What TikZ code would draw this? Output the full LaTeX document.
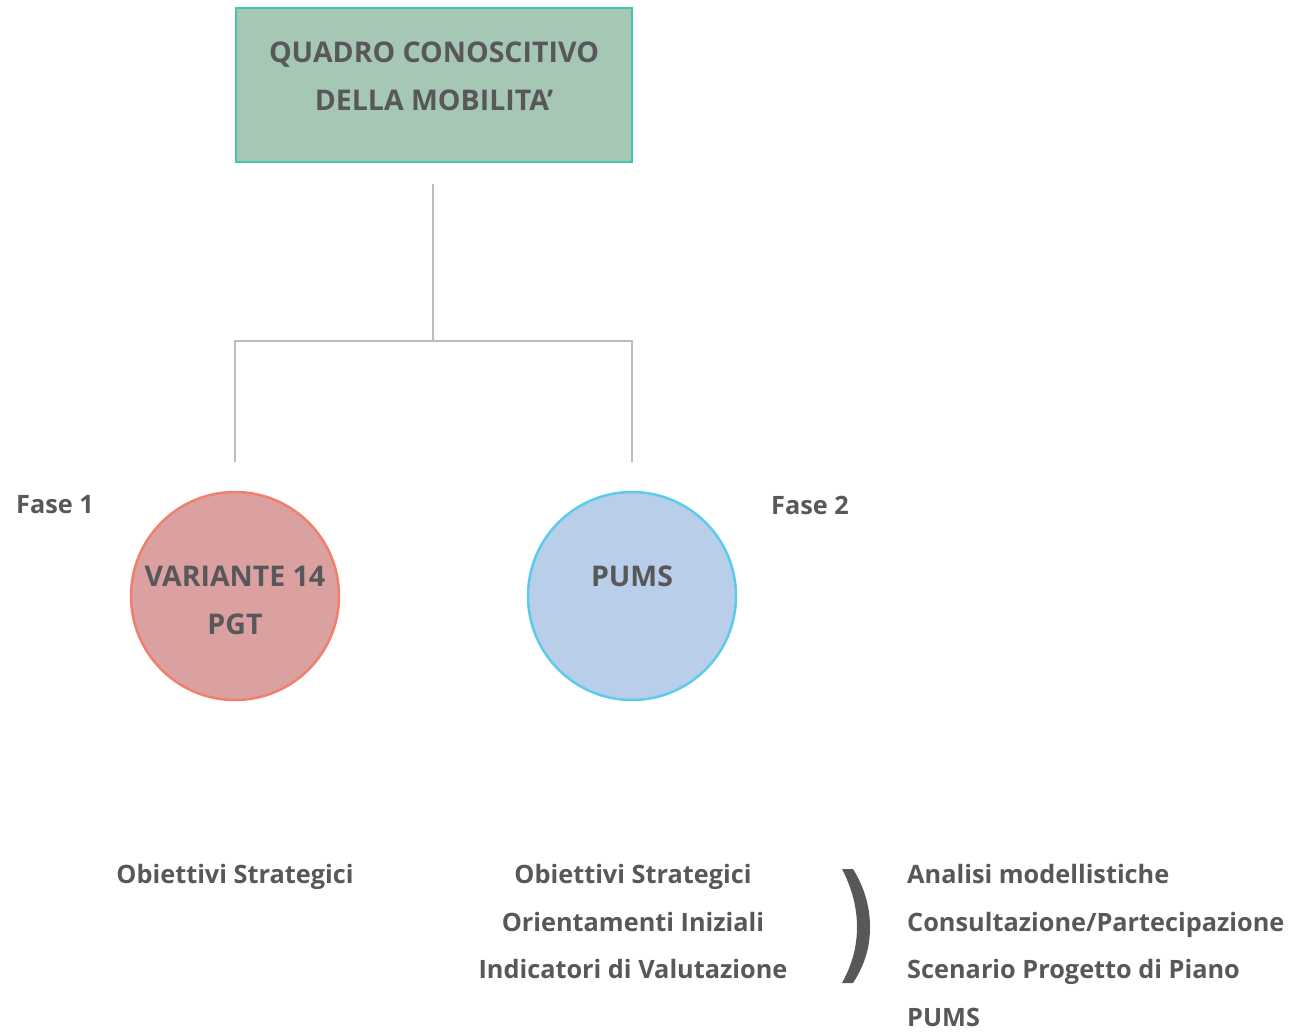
\documentclass[tikz,border=0pt]{standalone}
\usepackage{fontspec}
\setmainfont{Open Sans}
\definecolor{main}{RGB}{167,199,181}
\definecolor{mainline}{RGB}{62,198,178}
\definecolor{second}{RGB}{219,161,161}
\definecolor{secondline}{RGB}{240,128,110}
\definecolor{third}{RGB}{185,206,232}
\definecolor{thirdline}{RGB}{92,204,234}
\definecolor{linkgray}{RGB}{190,190,190}
\definecolor{textgray}{RGB}{88,88,90}
\usetikzlibrary{positioning}
\tikzset{
  % text
	csttext/.style   ={text=textgray,font=\fontsize{25.3}{47.5}\selectfont\bfseries,inner sep=0pt},
	cstcaps/.style   ={text=textgray,font=\fontsize{28.5}{48}\selectfont\bfseries,inner sep=0pt},
  % node
	cstbox/.style    ={fill=main,draw=mainline,line width=2.5pt,minimum width=396,minimum height=154,inner sep=0pt},
	cstcirc1/.style  ={circle,fill=second,draw=secondline,line width=2.5pt,minimum size=208,inner sep=0pt},
	cstcirc2/.style  ={circle,fill=third,draw=thirdline,line width=2.5pt,minimum size=208,inner sep=0pt},
  % line
	cstlink/.style   ={draw=linkgray,line width=2.5pt}
}

\begin{document}
\begin{tikzpicture}[x=1pt,y=-1pt]
	\useasboundingbox (0,0) rectangle (1301,1031);
	% top box
	\node[cstbox] (qc) at (434,85) {};
	\node[cstcaps,align=center] (qctext) at (434,76) {QUADRO CONOSCITIVO\\DELLA MOBILITA'};
	% circles
	\node[cstcirc1] (var) at (235,596) {};
	\node[cstcirc2] (pums) at (632,596) {};
	\node[cstcaps,align=center] (vartext) at (235,600) {VARIANTE 14\\PGT};
	\node[cstcaps] (pumstext) at (632,576) {PUMS};
	% links
	\coordinate (mid) at (433,341);
	\draw[cstlink,shorten <=21] (qc.south -| mid) -- (mid);
	\draw[cstlink,shorten >=29] (mid) -| (var.north);
	\draw[cstlink,shorten >=29] (mid) -| (pums.north);
	% phases
	\node[csttext] (f1) at (55,505) {Fase 1};
	\node[csttext] (f2) at (810,505) {Fase 2};
	% lists
	\node[csttext] (obj1) at (235,877) {Obiettivi Strategici};
	\node[csttext,align=center] (obj2) at (633,921.5) {Obiettivi Strategici\\Orientamenti Iniziali\\Indicatori di Valutazione};
	\node[csttext,align=left,anchor=west] (obj3) at (907,945.5) {Analisi modellistiche\\Consultazione/Partecipazione\\Scenario Progetto di Piano\\PUMS};
	% bracket
	\fill[textgray] (853,869) .. controls (866,890) and (870,910) .. (870,927)
		.. controls (870,945) and (866,963) .. (853,983) -- (842,983)
		.. controls (853,963) and (857,945) .. (857,927)
		.. controls (857,910) and (853,890) .. (842,869) -- cycle;
\end{tikzpicture}
\end{document}
